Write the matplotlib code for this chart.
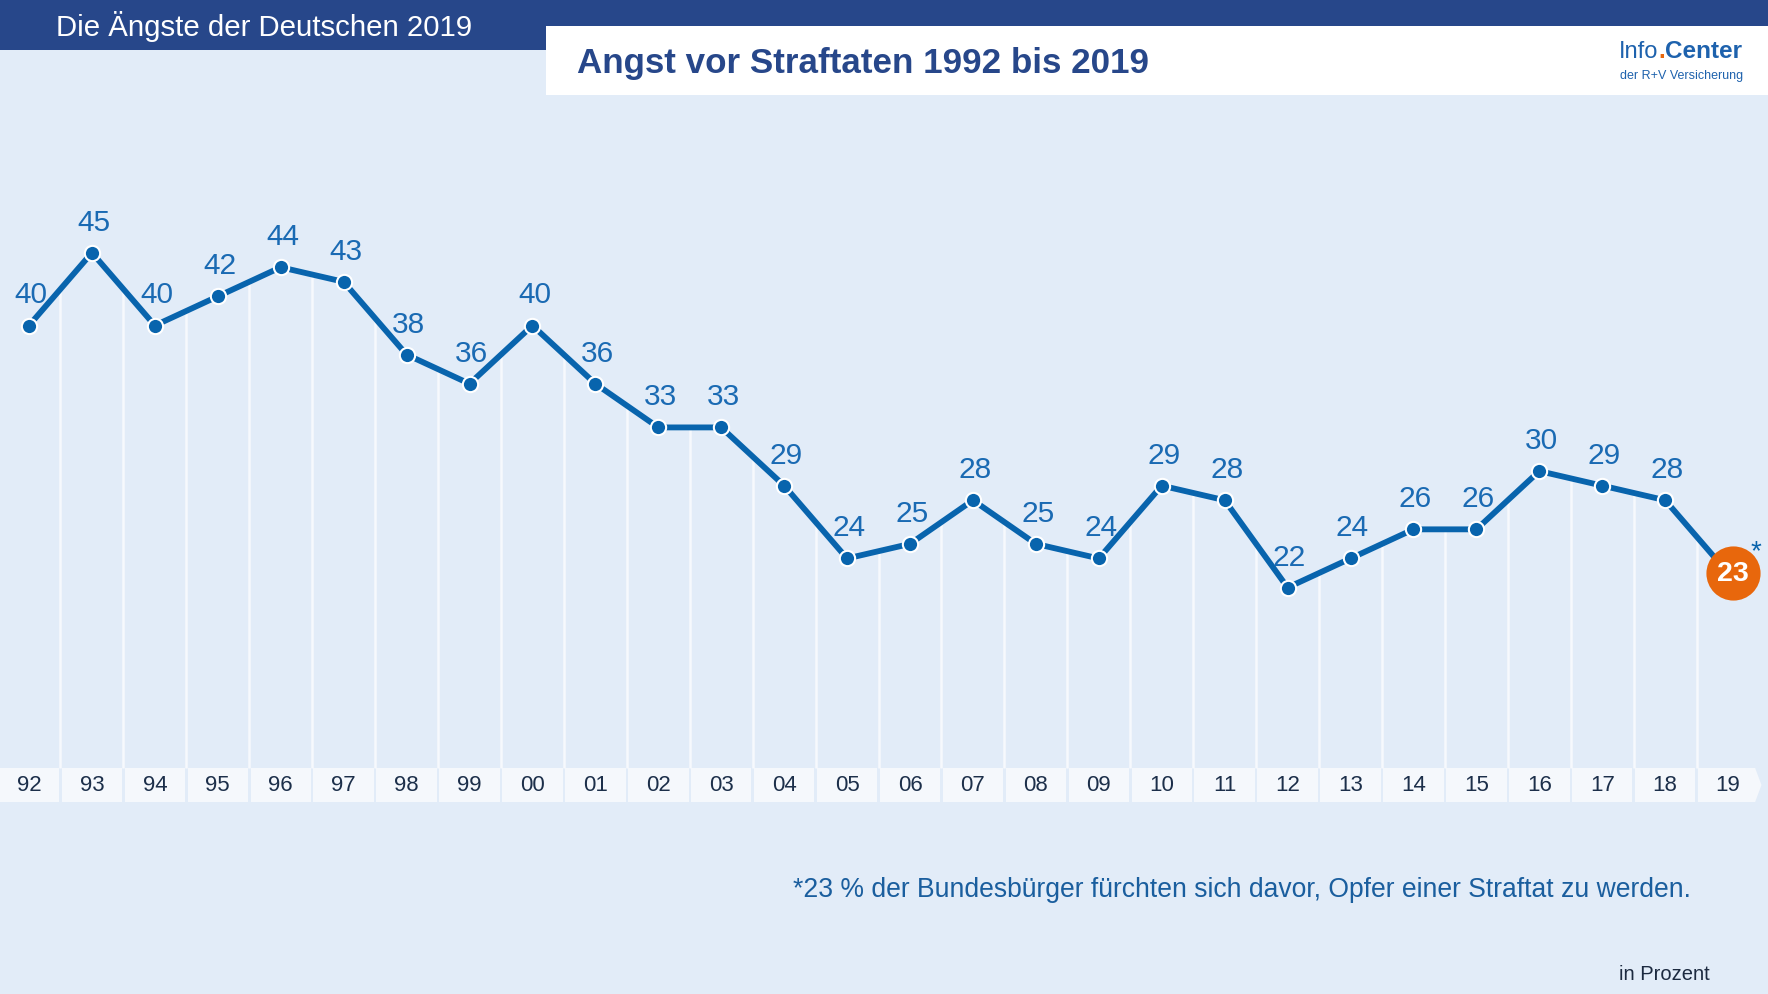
import numpy as np
import matplotlib.pyplot as plt
from matplotlib.patches import Rectangle, Polygon
from matplotlib.transforms import blended_transform_factory, offset_copy

plt.rcParams['font.family'] = ['Liberation Sans', 'DejaVu Sans']

# Data
years = ['92', '93', '94', '95', '96', '97', '98', '99', '00', '01', '02', '03', '04', '05',
         '06', '07', '08', '09', '10', '11', '12', '13', '14', '15', '16', '17', '18', '19']
values = [40, 45, 40, 42, 44, 43, 38, 36, 40, 36, 33, 33, 29, 24,
          25, 28, 25, 24, 29, 28, 22, 24, 26, 26, 30, 29, 28, 23]

header = 'Die Ängste der Deutschen 2019'
title = 'Angst vor Straftaten 1992 bis 2019'
footnote = '*23 % der Bundesbürger fürchten sich davor, Opfer einer Straftat zu werden.'
unit = 'in Prozent'

# Colors
bg_col = '#e2ecf8'
dark = '#27478a'
line_col = '#0864ad'
label_col = '#1a6ab3'
orange = '#e8670c'

W, H = 1768, 995
fig = plt.figure(figsize=(W / 100, H / 100), dpi=100)
fig.patch.set_facecolor(bg_col)

# Background / decoration axes in pixel units
bg = fig.add_axes([0, 0, 1, 1])
bg.set_xlim(0, W)
bg.set_ylim(H, 0)
bg.axis('off')
bg.add_patch(Rectangle((0, 0), W, 27, color=dark, lw=0))
bg.add_patch(Rectangle((0, 0), 546, 51, color=dark, lw=0))
bg.add_patch(Rectangle((546, 27), W - 546, 69, color='white', lw=0))
bg.text(56, 27, header, color='white', fontsize=21.2, va='center', ha='left')
bg.text(577, 63, title, color=dark, fontsize=25.2, fontweight='bold', va='center', ha='left')

# Logo
t1 = bg.text(1619, 58, 'Info', color='#1e62ad', fontsize=17, va='baseline', ha='left')
t2 = bg.annotate('.', xy=(1, 0), xycoords=t1, color=orange, fontsize=17, fontweight='bold',
                 va='bottom', ha='left')
bg.annotate('Center', xy=(1, 0), xycoords=t2, color='#1e62ad', fontsize=17.5, fontweight='bold',
            va='bottom', ha='left')
bg.text(1620, 76, 'der R+V Versicherung', color='#1e62ad', fontsize=9, va='center', ha='left')

bg.text(793, 890, footnote, color='#1a5e9e', fontsize=19.1, va='center', ha='left')
bg.text(1710, 974, unit, color='#1c2a40', fontsize=14.5, va='center', ha='right')

# Data axes
ax = fig.add_axes([0, (H - 803) / H, 1, (803 - 96) / H])
ax.set_facecolor('none')
x = np.arange(len(values))
ax.set_xlim(-29 / 62.93, (W - 29) / 62.93)
ax.set_ylim(45 - (803 - 253.7) / 14.56, 45 + (253.7 - 96) / 14.56)
ax.axis('off')

# axis strip with year cells
tr = blended_transform_factory(ax.transData, ax.transAxes)
strip_h = (803 - 769) / (803 - 96)
gap = 0.02
for i, yr in enumerate(years):
    left = i - 0.5 + gap if i > 0 else ax.get_xlim()[0]
    right = i + 0.5 - gap
    if i == len(years) - 1:
        poly = Polygon([(left, 0), (right - 0.05, 0), (right + 0.05, strip_h / 2),
                        (right - 0.05, strip_h), (left, strip_h)],
                       closed=True, transform=tr, color='#f5f8fc', lw=0)
        ax.add_patch(poly)
    else:
        ax.add_patch(Rectangle((left, 0), right - left, strip_h, transform=tr,
                               color='#f5f8fc', lw=0))
    ax.text(i, strip_h / 2, yr, transform=tr, ha='center', va='center',
            fontsize=16, color='#1c2f4a')

# vertical separators from the strip up to the line
mids = x[:-1] + 0.5
mid_vals = np.interp(mids, x, values)
strip_top = ax.get_ylim()[0] + strip_h * (ax.get_ylim()[1] - ax.get_ylim()[0])
ax.vlines(mids, strip_top, mid_vals, color='#f6f9fd', lw=1.8, zorder=1)

# line and markers
ax.plot(x, values, color=line_col, lw=4.2, zorder=3, solid_capstyle='round')
ax.plot(x[:-1], values[:-1], 'o', color=line_col, ms=11, mec='white', mew=1.5, zorder=4)

# highlighted last value, nudged slightly right like the original
shift = offset_copy(ax.transData, fig=fig, x=5, y=0, units='dots')
ax.plot(x[-1], values[-1], 'o', color=orange, ms=39, mec='none', zorder=5, transform=shift)
ax.text(x[-1], values[-1], str(values[-1]), color='white', fontsize=20.5, fontweight='bold',
        ha='center', va='center', zorder=6, transform=shift)
ax.annotate('*', xy=(x[-1], values[-1]), xytext=(28, 22), textcoords='offset pixels',
            color=line_col, fontsize=20, ha='center', va='center')

for xi, v in zip(x[:-1], values[:-1]):
    ax.annotate(str(v), xy=(xi, v), xytext=(2, 31), textcoords='offset pixels',
                ha='center', va='center', fontsize=21.5, color=label_col, zorder=5)

plt.savefig('out.png', dpi=100, facecolor=fig.get_facecolor())
